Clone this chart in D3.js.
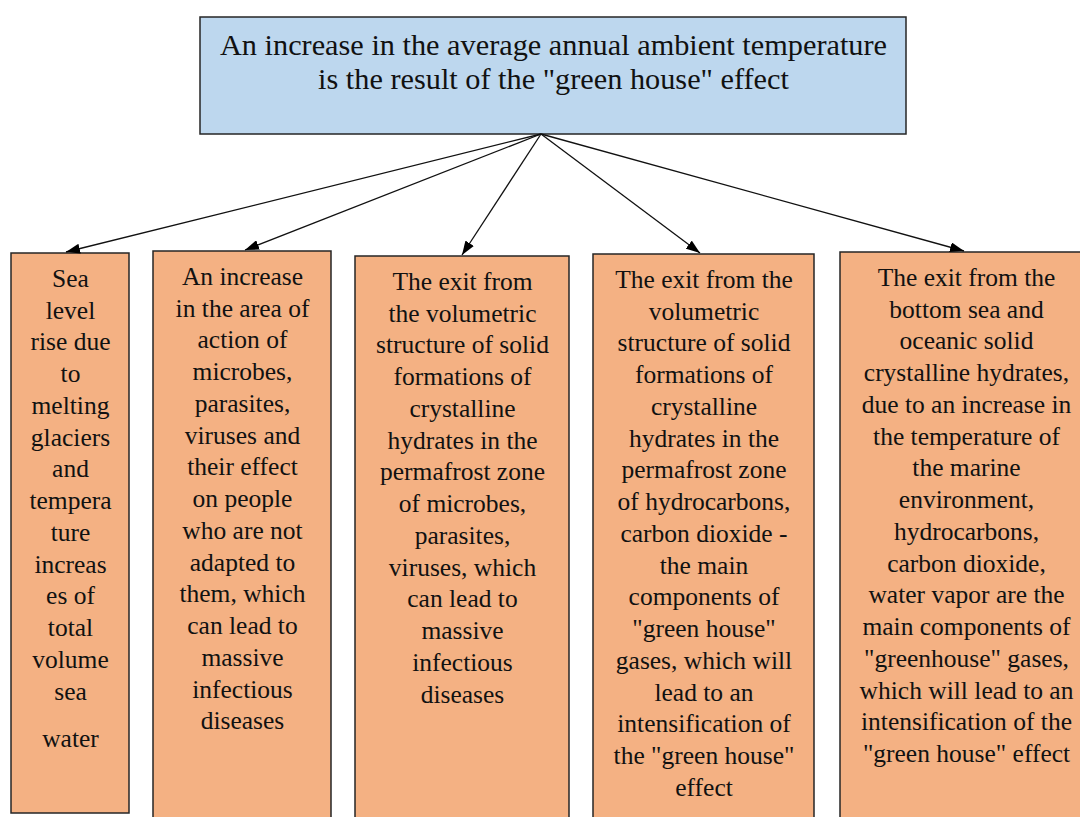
<!DOCTYPE html>
<html>
<head>
<meta charset="utf-8">
<script src="https://cdn.jsdelivr.net/npm/d3@7/dist/d3.min.js"></script>
<style>
  html, body { margin: 0; padding: 0; background: #ffffff; }
  svg { display: block; }
  svg text { font-family: "Liberation Serif", "Times New Roman", Tinos, "DejaVu Serif", serif; }
</style>
</head>
<body>
<svg id="chart" width="1080" height="817"></svg>
<script>
// ---- Content (text only) ----
const titleLines = [
  "An increase in the average annual ambient temperature",
  "is the result of the \"green house\" effect"
];

const box1Lines = ["Sea", "level", "rise due", "to", "melting", "glaciers", "and", "tempera", "ture", "increas", "es of", "total", "volume", "sea", "", "water"];
const box2Lines = ["An increase", "in the area of", "action of", "microbes,", "parasites,", "viruses and", "their effect", "on people", "who are not", "adapted to", "them, which", "can lead to", "massive", "infectious", "diseases"];
const box3Lines = ["The exit from", "the volumetric", "structure of solid", "formations of", "crystalline", "hydrates in the", "permafrost zone", "of microbes,", "parasites,", "viruses, which", "can lead to", "massive", "infectious", "diseases"];
const box4Lines = ["The exit from the", "volumetric", "structure of solid", "formations of", "crystalline", "hydrates in the", "permafrost zone", "of hydrocarbons,", "carbon dioxide -", "the main", "components of", "\"green house\"", "gases, which will", "lead to an", "intensification of", "the \"green house\"", "effect"];
const box5Lines = ["The exit from the", "bottom sea and", "oceanic solid", "crystalline hydrates,", "due to an increase in", "the temperature of", "the marine", "environment,", "hydrocarbons,", "carbon dioxide,", "water vapor are the", "main components of", "\"greenhouse\" gases,", "which will lead to an", "intensification of the", "\"green house\" effect"];

const boxTexts = [box1Lines, box2Lines, box3Lines, box4Lines, box5Lines];

// ---- Layout (separate from content) ----
const topBox = { x: 200, y: 17, w: 706, h: 117 };
const boxLayout = [
  { x: 11,  y: 253, w: 118, h: 560, tipX: 66 },
  { x: 153, y: 251, w: 178, h: 600, tipX: 245 },
  { x: 355, y: 256, w: 214, h: 600, tipX: 462 },
  { x: 593, y: 254, w: 221, h: 600, tipX: 700 },
  { x: 840, y: 252, w: 252, h: 600, tipX: 964 }
];
const origin = { x: 541, y: 134 };
const lineH = 31.75;
const gapUnits = { "": 0.5 }; // blank line counts as half a line

const svg = d3.select("#chart");

// arrow marker
svg.append("defs").append("marker")
  .attr("id", "arrow")
  .attr("viewBox", "0 0 14 10")
  .attr("refX", 14).attr("refY", 5)
  .attr("markerWidth", 14).attr("markerHeight", 10)
  .attr("markerUnits", "userSpaceOnUse")
  .attr("orient", "auto")
  .append("path")
  .attr("d", "M0,0 L14,5 L0,10 Z")
  .attr("fill", "#000");

// top box
svg.append("rect")
  .attr("x", topBox.x).attr("y", topBox.y)
  .attr("width", topBox.w).attr("height", topBox.h)
  .attr("fill", "#bdd7ee").attr("stroke", "#262626").attr("stroke-width", 1.5);

svg.append("g").selectAll("text").data(titleLines).join("text")
  .attr("x", topBox.x + topBox.w / 2 + 0.5)
  .attr("y", (d, i) => 44.5 + i * 34)
  .attr("dy", "0.35em")
  .attr("text-anchor", "middle")
  .style("font-size", "30.3px")
  .attr("fill", "#111")
  .text(d => d);

// bottom boxes
const boxes = svg.append("g").selectAll("g").data(boxTexts).join("g");

boxes.append("rect")
  .attr("x", (d, i) => boxLayout[i].x)
  .attr("y", (d, i) => boxLayout[i].y)
  .attr("width", (d, i) => boxLayout[i].w)
  .attr("height", (d, i) => boxLayout[i].h)
  .attr("fill", "#f4b183").attr("stroke", "#262626").attr("stroke-width", 1.5);

boxes.each(function (lines, i) {
  const L = boxLayout[i];
  let pos = 0;
  const placed = [];
  lines.forEach(t => {
    if (t === "") { pos += gapUnits[""]; return; }
    placed.push({ t, pos });
    pos += 1;
  });
  d3.select(this).selectAll("text").data(placed).join("text")
    .attr("x", L.x + L.w / 2 + 0.5)
    .attr("y", d => L.y + 25 + d.pos * lineH)
    .attr("dy", "0.35em")
    .attr("text-anchor", "middle")
    .style("font-size", "25.5px")
    .attr("fill", "#111")
    .text(d => d.t);
});

// arrows
svg.append("g").selectAll("line").data(boxLayout).join("line")
  .attr("x1", origin.x).attr("y1", origin.y)
  .attr("x2", d => d.tipX).attr("y2", d => d.y - 1)
  .attr("stroke", "#111").attr("stroke-width", 1.3)
  .attr("marker-end", "url(#arrow)");
</script>
</body>
</html>
